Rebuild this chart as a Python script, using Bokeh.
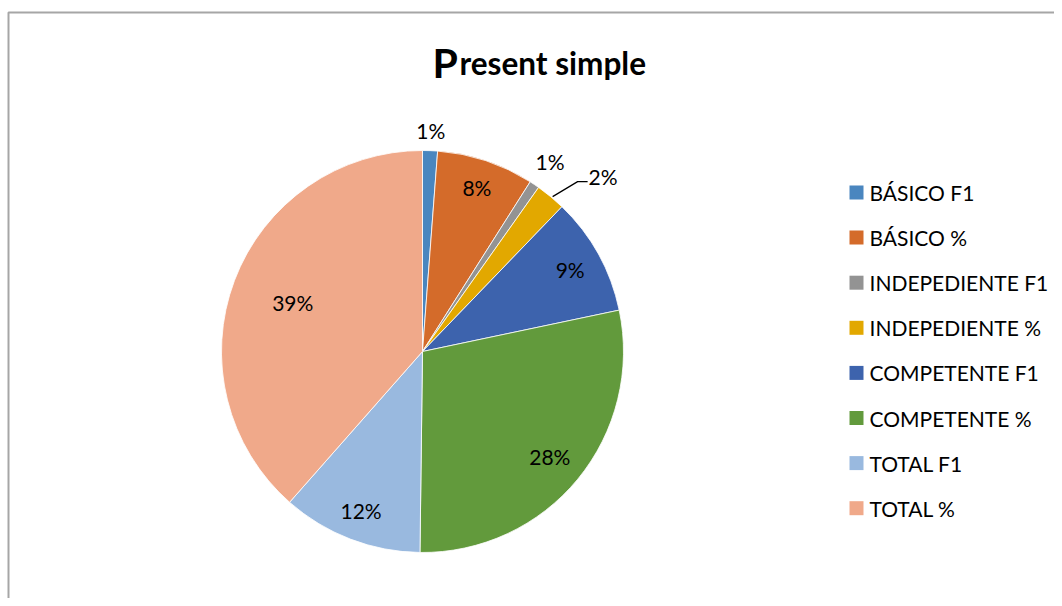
import math
from bokeh.plotting import figure
from bokeh.models import ColumnDataSource, Range1d
from bokeh.core.properties import value
from bokeh.embed import file_html
from bokeh.resources import INLINE

# ---- data ----
categories = ["BÁSICO F1", "BÁSICO %", "INDEPEDIENTE F1", "INDEPEDIENTE %",
              "COMPETENTE F1", "COMPETENTE %", "TOTAL F1", "TOTAL %"]
values = [1.2, 7.8, 0.8, 2.4, 9.5, 28.5, 11.3, 38.5]
pct_labels = ["1%", "8%", "1%", "2%", "9%", "28%", "12%", "39%"]
colors = ["#4a86bf", "#d46b2a", "#939393", "#e2a800",
          "#3d63ad", "#629a3c", "#99b9df", "#f0a98a"]
title_first = "P"
title_rest = "resent simple"

# ---- layout ----
W, H = 1054, 598
FONT = "Lato"
cx, cy, R = 422, H - 351, 201
label_r = [1.10, 0.86, 1.14, 1.0, 0.84, 0.82, 0.85, 0.69]

p = figure(width=W, height=H, output_backend="svg", toolbar_location=None,
           x_range=Range1d(0, W), y_range=Range1d(0, H), min_border=0)
p.axis.visible = False
p.grid.visible = False
p.outline_line_color = None
p.background_fill_color = "white"

# border (left and top)
p.line(x=[8, 8, W], y=[0, H - 12, H - 12], line_color="#a6a6a6", line_width=2)

total = sum(values)
starts, ends, mids = [], [], []
cum = 0.0
for v in values:
    a0 = math.pi / 2 - 2 * math.pi * cum / total
    cum += v
    a1 = math.pi / 2 - 2 * math.pi * cum / total
    starts.append(a0)
    ends.append(a1)
    mids.append((a0 + a1) / 2)

src = ColumnDataSource(dict(start=starts, end=ends, color=colors, cat=categories))
p.wedge(x=cx, y=cy, radius=R, start_angle="start", end_angle="end",
        direction="clock", fill_color="color", line_color="white",
        line_width=0.8, source=src)

# labels
lx, ly, ltxt = [], [], []
for i, (m, t) in enumerate(zip(mids, pct_labels)):
    if i == 3:
        continue
    lx.append(cx + R * label_r[i] * math.cos(m))
    ly.append(cy + R * label_r[i] * math.sin(m))
    ltxt.append(t)
p.text(x=lx, y=ly, text=ltxt, text_align="center", text_baseline="middle",
       text_font=value(FONT), text_font_size="21px", text_color="#000000")

# leader line label (slice 4)
m = mids[3]
ex, ey = cx + R * math.cos(m), cy + R * math.sin(m)
p.line(x=[ex + 2, ex + 27, ex + 37], y=[ey, ey + 15, ey + 15],
       line_color="#000000", line_width=1.2)
p.text(x=[ex + 38], y=[ey + 20], text=[pct_labels[3]], text_align="left",
       text_baseline="middle", text_font=value(FONT), text_font_size="21px",
       text_color="#000000")

# title
p.text(x=[432], y=[H - 62], text=[title_first], text_align="left",
       text_baseline="alphabetic", text_font=value(FONT), text_font_size="41px",
       text_font_style="bold", text_color="#000000")
p.text(x=[459], y=[H - 62], text=[title_rest], text_align="left",
       text_baseline="alphabetic", text_font=value(FONT), text_font_size="31.5px",
       text_font_style="bold", text_color="#000000")

# legend (manual)
row0 = H - 192
step = 45.1
ys = [row0 - i * step for i in range(len(categories))]
p.rect(x=[856] * len(categories), y=ys, width=14, height=14,
       fill_color=colors, line_color=None)
p.text(x=[869] * len(categories), y=ys, text=categories, text_align="left",
       text_baseline="middle", text_font=value(FONT), text_font_size="21px",
       text_color="#000000")

open("out.html", "w").write(file_html(p, INLINE))
